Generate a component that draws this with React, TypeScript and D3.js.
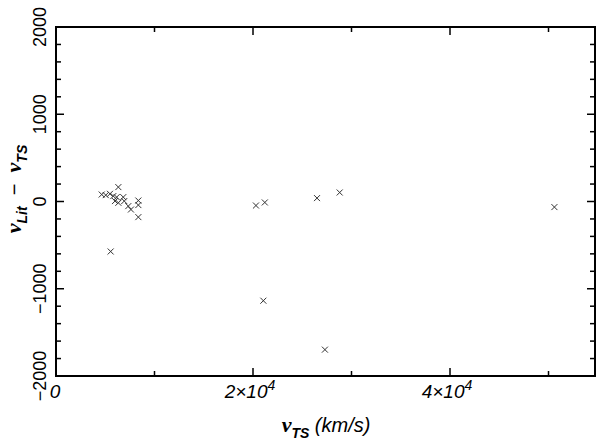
import React from "react";
import * as d3 from "d3";

const vTS: number[] = [4640, 5050, 5480, 5820, 6160, 6330, 6830, 5990, 6330, 6930, 7340, 7610, 8360, 8360, 8360, 5550, 20300, 21200, 26500, 28800, 21050, 27300, 50600];
const vDiff: number[] = [80, 73, 88, 62, 50, 165, 50, 5, -15, 5, -53, -92, 11, -41, -179, -573, -46, -11, 39, 103, -1137, -1698, -64];

const xMajorTicks: number[] = [0, 20000, 40000];
const xMinorTicks: number[] = [10000, 30000, 50000];
const xTickLabels: string[] = ["0", "2×10", "4×10"];
const yMajorTicks: number[] = [-2000, -1000, 0, 1000, 2000];
const yTickLabels: string[] = ["−2000", "−1000", "0", "1000", "2000"];

const W = 600, H = 447;
const L = 56, R = 595, T = 27, B = 376;

export default function App() {
  const x = d3.scaleLinear().domain([0, 54720]).range([L, R]);
  const y = d3.scaleLinear().domain([-2000, 2000]).range([B, T]);
  const yMinor = d3.range(-2000, 2001, 200).filter((v) => v % 1000 !== 0);
  const sans = "'Liberation Sans', Arial, Helvetica, sans-serif";
  const serif = "'Liberation Serif', 'DejaVu Serif', serif";
  const s = 3;
  return (
    <svg width={W} height={H} style={{ position: "absolute", left: 0, top: 0, background: "#fff" }}>
      <rect x={0} y={0} width={W} height={H} fill="#fff" />
      {yMajorTicks.map((v) => (
        <g key={"ym" + v}>
          <line x1={L} x2={L + 8} y1={y(v)} y2={y(v)} stroke="#000" strokeWidth={1.5} />
          <line x1={R} x2={R - 8} y1={y(v)} y2={y(v)} stroke="#000" strokeWidth={1.5} />
        </g>
      ))}
      {yMinor.map((v) => (
        <g key={"yn" + v}>
          <line x1={L} x2={L + 5} y1={y(v)} y2={y(v)} stroke="#000" strokeWidth={1.5} />
          <line x1={R} x2={R - 5} y1={y(v)} y2={y(v)} stroke="#000" strokeWidth={1.5} />
        </g>
      ))}
      {xMajorTicks.map((v) => (
        <g key={"xm" + v}>
          <line x1={x(v)} x2={x(v)} y1={B} y2={B - 8} stroke="#000" strokeWidth={1.5} />
          <line x1={x(v)} x2={x(v)} y1={T} y2={T + 8} stroke="#000" strokeWidth={1.5} />
        </g>
      ))}
      {xMinorTicks.map((v) => (
        <g key={"xn" + v}>
          <line x1={x(v)} x2={x(v)} y1={B} y2={B - 5} stroke="#000" strokeWidth={1.5} />
          <line x1={x(v)} x2={x(v)} y1={T} y2={T + 5} stroke="#000" strokeWidth={1.5} />
        </g>
      ))}
      <rect x={L} y={T} width={R - L} height={B - T} fill="none" stroke="#000" strokeWidth={2} />
      {vTS.map((v, i) => (
        <g key={"p" + i} stroke="#333" strokeWidth={1}>
          <line x1={x(v) - s} x2={x(v) + s} y1={y(vDiff[i]) - s} y2={y(vDiff[i]) + s} />
          <line x1={x(v) - s} x2={x(v) + s} y1={y(vDiff[i]) + s} y2={y(vDiff[i]) - s} />
        </g>
      ))}
      {yMajorTicks.map((v, i) => (
        <text key={"yl" + v} transform={`translate(46,${y(v)}) rotate(-90)`} textAnchor="middle"
          fontFamily={sans} fontSize={18} fill="#000">{yTickLabels[i]}</text>
      ))}
      {xMajorTicks.map((v, i) => (
        <text key={"xl" + v} x={v === 0 ? x(v) - 1 : x(v) - 3} y={398} textAnchor="middle"
          fontFamily={sans} fontStyle="italic" fontSize={19} fill="#000">
          {xTickLabels[i]}
          {v !== 0 && <tspan dy={-8} fontSize={14}>4</tspan>}
        </text>
      ))}
      <text x={326} y={432} textAnchor="middle" fontSize={22} fill="#000" fontStyle="italic">
        <tspan fontFamily={serif} fontWeight="bold">v</tspan>
        <tspan fontFamily={sans} fontSize={14} fontWeight="bold" dy={6}>TS</tspan>
        <tspan fontFamily={sans} fontSize={20} dy={-6}>{"\u00a0(km/s)"}</tspan>
      </text>
      <text transform={`translate(21,189) rotate(-90)`} textAnchor="middle" fontSize={22} fill="#000" fontStyle="italic">
        <tspan fontFamily={serif} fontWeight="bold">v</tspan>
        <tspan fontFamily={sans} fontSize={14} fontWeight="bold" dy={6}>Lit</tspan>
        <tspan fontFamily={sans} fontSize={20} fontStyle="normal" dy={-6}>{"\u00a0\u00a0−\u00a0\u00a0"}</tspan>
        <tspan fontFamily={serif} fontWeight="bold">v</tspan>
        <tspan fontFamily={sans} fontSize={14} fontWeight="bold" dy={6}>TS</tspan>
      </text>
    </svg>
  );
}
